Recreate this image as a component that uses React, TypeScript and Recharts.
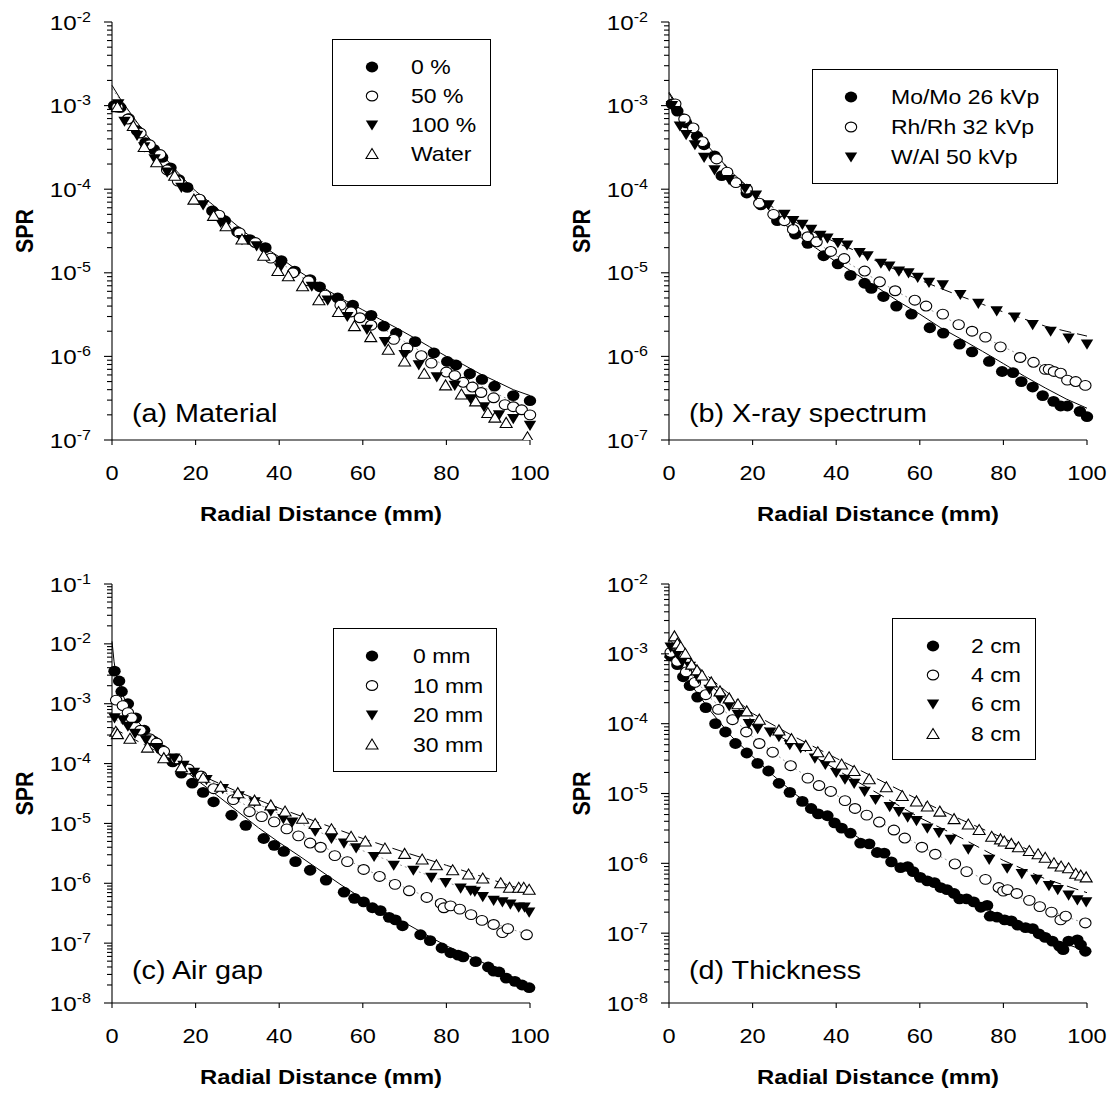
import React from 'react';
import { ComposedChart, Scatter, Line, XAxis, YAxis, Legend, Label, Customized } from 'recharts';

const FONT = '"Liberation Sans", Arial, sans-serif';
const SX = 1.15; // the source figure is a little wider than tall

type Pt = [number, number];

// ---------- (a) Material ----------
const matPct0: Pt[] = [[0.5,1.0e-3],[2,9.5e-4],[4,7.0e-4],[6,5.0e-4],[8,3.6e-4],[10,3.0e-4],[12,2.4e-4],[14,1.8e-4],[16,1.3e-4],[18,1.05e-4],[21,7.5e-5],[24,5.5e-5],[27,4.2e-5],[30,3.1e-5],[33,2.5e-5],[36.7,2.0e-5],[40.5,1.4e-5],[43.7,1.05e-5],[47.4,8.3e-6],[49.7,6.8e-6],[54,5.0e-6],[57.6,4.1e-6],[62,3.1e-6],[65,2.3e-6],[68,1.9e-6],[72.5,1.5e-6],[77,1.1e-6],[80.2,8.7e-7],[82.3,7.9e-7],[85.6,6.2e-7],[88.5,5.3e-7],[91.5,4.4e-7],[96,3.4e-7],[100,2.95e-7]];
const matPct50: Pt[] = [[1.3,9.6e-4],[3.8,6.9e-4],[6.8,4.7e-4],[9,3.4e-4],[11.5,2.6e-4],[13.2,1.7e-4],[15.8,1.25e-4],[20.9,7.6e-5],[25.6,4.9e-5],[30.5,3.0e-5],[34.3,2.3e-5],[38,1.5e-5],[43.3,1.0e-5],[47,8.0e-6],[51,5.4e-6],[54.7,4.1e-6],[57.2,3.4e-6],[59.3,2.9e-6],[62,2.36e-6],[67.4,1.6e-6],[70.6,1.26e-6],[74,1.02e-6],[76.4,8.3e-7],[80,6.5e-7],[82,5.9e-7],[84,4.9e-7],[86.2,4.3e-7],[88.3,3.7e-7],[91.3,3.2e-7],[94,2.65e-7],[96,2.5e-7],[98,2.3e-7],[100,2.0e-7]];
const matPct100: Pt[] = [[1.5,1.05e-3],[3,6.5e-4],[6,4.4e-4],[7.7,3.2e-4],[10.2,2.3e-4],[13.2,1.6e-4],[16.6,1.05e-4],[21.8,6.5e-5],[26,4.0e-5],[31.1,2.5e-5],[34.6,2.1e-5],[40.2,1.15e-5],[47.8,6.9e-6],[51.6,4.7e-6],[56.3,3.0e-6],[61,2.1e-6],[65.3,1.5e-6],[70,1.05e-6],[73.4,7.9e-7],[77.7,5.7e-7],[82,4.5e-7],[85.8,3.1e-7],[89,2.5e-7],[92.6,2.0e-7],[96,1.8e-7],[100,1.5e-7]];
const matWater: Pt[] = [[1.3,9.6e-4],[5.1,5.7e-4],[7.7,3.2e-4],[10.7,2.1e-4],[15,1.45e-4],[19.6,7.5e-5],[24.3,4.8e-5],[27.3,3.6e-5],[31.1,2.5e-5],[36.3,1.6e-5],[39.7,1.05e-5],[42.2,9.1e-6],[45.6,6.9e-6],[49.5,4.7e-6],[54.2,3.4e-6],[58,2.3e-6],[61.9,1.7e-6],[66.1,1.2e-6],[70,8.7e-7],[74.7,6.2e-7],[79.8,4.5e-7],[83.6,3.5e-7],[87,2.9e-7],[89.9,2.1e-7],[91.6,1.85e-7],[94.3,1.6e-7],[99.4,1.08e-7]];
const matSim0: Pt[] = [[0,1.75e-3],[2,1.2e-3],[5,7.4e-4],[8,4.6e-4],[10,3.5e-4],[12,2.6e-4],[15,1.75e-4],[18,1.2e-4],[20,9.5e-5],[24,6.6e-5],[28,4.4e-5],[32,3.0e-5],[36,2.1e-5],[40,1.55e-5],[44,1.1e-5],[48,8.2e-6],[52,6.0e-6],[56,4.6e-6],[60,3.6e-6],[64,2.8e-6],[68,2.2e-6],[72,1.7e-6],[76,1.3e-6],[80,1.0e-6],[84,8.0e-7],[88,6.2e-7],[92,5.0e-7],[96,4.0e-7],[100,3.4e-7]];
const matSim50: Pt[] = [[0,1.6e-3],[10,3.2e-4],[20,8.8e-5],[30,3.2e-5],[40,1.35e-5],[50,6.2e-6],[60,3.0e-6],[70,1.5e-6],[80,7.5e-7],[90,4.0e-7],[100,2.3e-7]];

// ---------- (b) X-ray spectrum ----------
const specMo: Pt[] = [[0.7,1.05e-3],[2,8.6e-4],[4.1,6.2e-4],[6.7,4.3e-4],[8.4,3.4e-4],[10.9,2.5e-4],[12.6,1.45e-4],[18.6,9.0e-5],[22,6.5e-5],[25.9,4.2e-5],[30.2,2.9e-5],[33.2,2.25e-5],[37,1.6e-5],[40.4,1.28e-5],[43.4,9.3e-6],[46.8,7.5e-6],[48.4,6.5e-6],[51.3,5.2e-6],[54.4,4.0e-6],[58,3.2e-6],[62.4,2.2e-6],[65.6,1.9e-6],[69.5,1.4e-6],[72.5,1.13e-6],[76.6,8.7e-7],[79.7,6.6e-7],[82.3,6.4e-7],[84.3,5.0e-7],[87,4.3e-7],[89.4,3.4e-7],[92,2.9e-7],[93.7,2.55e-7],[95.3,2.55e-7],[98.3,2.2e-7],[100,1.9e-7]];
const specRh: Pt[] = [[1.5,1.05e-3],[3.7,6.9e-4],[5.8,5.4e-4],[8,3.7e-4],[11.4,2.3e-4],[13.9,1.6e-4],[16,1.2e-4],[18.6,1.0e-4],[21.6,6.8e-5],[25,5.0e-5],[27.6,4.2e-5],[29.7,3.3e-5],[33.2,2.7e-5],[35.3,2.35e-5],[38.7,1.8e-5],[41.9,1.48e-5],[46.8,1.05e-5],[50.4,7.8e-6],[54.1,6.1e-6],[58.8,4.7e-6],[61.5,4.0e-6],[65.5,3.2e-6],[69.3,2.4e-6],[72.5,2.0e-6],[75.7,1.7e-6],[79.3,1.3e-6],[84,9.7e-7],[87.2,8.5e-7],[90,7.0e-7],[90.9,7.0e-7],[92.1,6.6e-7],[93.7,6.3e-7],[95.3,5.2e-7],[97.3,5.0e-7],[99.6,4.5e-7]];
const specW: Pt[] = [[0.7,1.0e-3],[1.5,8.7e-4],[2.6,5.7e-4],[4.1,4.5e-4],[6.2,3.4e-4],[8.4,2.4e-4],[10.9,1.7e-4],[14.4,1.3e-4],[18.2,1.02e-4],[20.8,8.5e-5],[23.8,6.5e-5],[27.6,5.0e-5],[29.7,4.2e-5],[31.9,3.8e-5],[34,3.3e-5],[36.2,2.8e-5],[37.9,2.6e-5],[40.4,2.3e-5],[42.6,2.15e-5],[45.6,1.75e-5],[47.5,1.6e-5],[50.7,1.3e-5],[52.7,1.2e-5],[55,1.05e-5],[57.3,1.0e-5],[59.5,8.8e-6],[62.2,7.7e-6],[65.5,7.2e-6],[69.7,5.5e-6],[74,4.3e-6],[78.4,3.5e-6],[82.7,2.95e-6],[87,2.4e-6],[91.3,2.0e-6],[95.6,1.65e-6],[100,1.4e-6]];
const specSimMo: Pt[] = [[0,1.45e-3],[5,6.0e-4],[10,3.0e-4],[15,1.6e-4],[20,9.0e-5],[25,5.0e-5],[30,3.0e-5],[35,2.0e-5],[40,1.35e-5],[45,9.5e-6],[50,6.6e-6],[55,4.5e-6],[60,3.2e-6],[65,2.2e-6],[70,1.6e-6],[75,1.15e-6],[80,8.2e-7],[85,5.8e-7],[90,4.2e-7],[95,3.1e-7],[100,2.4e-7]];
const specSimRh: Pt[] = [[0,1.4e-3],[10,3.0e-4],[20,9.0e-5],[30,3.5e-5],[40,1.6e-5],[50,8.0e-6],[60,4.2e-6],[70,2.3e-6],[80,1.3e-6],[90,7.5e-7],[100,4.5e-7]];
const specSimW: Pt[] = [[0,1.4e-3],[5,5.5e-4],[10,2.8e-4],[15,1.6e-4],[20,9.5e-5],[25,6.0e-5],[30,4.1e-5],[35,3.0e-5],[40,2.3e-5],[45,1.8e-5],[50,1.35e-5],[55,1.05e-5],[60,8.2e-6],[65,6.5e-6],[70,5.2e-6],[75,4.2e-6],[80,3.4e-6],[85,2.8e-6],[90,2.3e-6],[95,2.0e-6],[100,1.75e-6]];

// ---------- (c) Air gap ----------
const gap0: Pt[] = [[0.6,3.5e-3],[1.7,2.4e-3],[2.3,1.6e-3],[3.8,1.0e-3],[5.7,5.8e-4],[7.7,3.6e-4],[9.8,2.4e-4],[11.9,1.7e-4],[14.5,1.07e-4],[16.6,6.9e-5],[19.2,4.7e-5],[21.8,3.3e-5],[24.3,2.3e-5],[28.6,1.37e-5],[32,9.3e-6],[36.3,5.6e-6],[38.8,4.3e-6],[41.1,3.4e-6],[43.9,2.3e-6],[47.4,1.65e-6],[51.2,1.13e-6],[55.5,7.1e-7],[58,5.6e-7],[60.2,4.9e-7],[62.3,3.9e-7],[64.2,3.5e-7],[66.3,2.7e-7],[67.8,2.45e-7],[69.5,1.95e-7],[73.8,1.38e-7],[76.1,1.1e-7],[78.9,8.3e-8],[81,6.9e-8],[82.8,6.3e-8],[84,5.9e-8],[87,4.9e-8],[90,4.0e-8],[91.3,3.4e-8],[92.6,3.3e-8],[94.3,2.6e-8],[96.4,2.3e-8],[98.1,2.0e-8],[99.8,1.8e-8]];
const gap10: Pt[] = [[1,1.15e-3],[2.6,9.3e-4],[3.8,7.1e-4],[4.7,5.8e-4],[6.8,3.6e-4],[9,2.6e-4],[10.7,2.2e-4],[12.4,1.6e-4],[15.4,1.2e-4],[18.3,8.1e-5],[21.3,6.2e-5],[24.3,3.8e-5],[29,2.5e-5],[32.9,1.57e-5],[35.8,1.3e-5],[38.8,1.06e-5],[41.8,8.1e-6],[44.6,6.2e-6],[47.4,4.7e-6],[49.9,4.0e-6],[53.3,2.9e-6],[56.3,2.3e-6],[60.2,1.7e-6],[64,1.3e-6],[67.7,9.6e-7],[71.1,7.5e-7],[75.3,5.8e-7],[78.7,4.6e-7],[79.4,3.9e-7],[81,4.2e-7],[83.2,3.7e-7],[85.9,3.0e-7],[88.5,2.4e-7],[91.3,2.05e-7],[93.4,1.5e-7],[94.7,1.75e-7],[99.2,1.38e-7]];
const gap20: Pt[] = [[0.6,5.8e-4],[2.6,5.4e-4],[3.8,4.2e-4],[5.5,3.2e-4],[8.1,2.5e-4],[10.7,1.85e-4],[14.9,1.23e-4],[17.1,9.3e-5],[19.6,7.1e-5],[22.6,5.4e-5],[26.5,3.8e-5],[30.3,2.9e-5],[34.1,2.3e-5],[38,1.6e-5],[41,1.2e-5],[43.1,1.05e-5],[48.6,7.4e-6],[52.5,5.6e-6],[55.5,4.7e-6],[58.4,3.9e-6],[62.7,2.8e-6],[67.4,2.0e-6],[72.1,1.65e-6],[76.4,1.26e-6],[79.8,1.03e-6],[83.4,8.3e-7],[85.8,7.6e-7],[86.8,7.3e-7],[88.7,6.0e-7],[91.3,5.2e-7],[93.4,4.9e-7],[95.3,4.5e-7],[97.3,4.0e-7],[98.7,4.0e-7],[99.8,3.3e-7]];
const gap30: Pt[] = [[0.9,3.4e-4],[1.3,3.1e-4],[4.3,2.6e-4],[8.5,1.85e-4],[12.4,1.23e-4],[16.6,8.7e-5],[21.8,5.8e-5],[26,4.1e-5],[30.1,3.2e-5],[34.1,2.4e-5],[38,2.0e-5],[41.4,1.58e-5],[45.6,1.2e-5],[48.6,9.8e-6],[52.5,8.0e-6],[57.2,6.0e-6],[60.6,5.0e-6],[65.3,3.8e-6],[70,3.1e-6],[74.2,2.5e-6],[77.6,2.0e-6],[81.5,1.65e-6],[85.3,1.4e-6],[88.7,1.2e-6],[93,1.0e-6],[95.1,8.4e-7],[97.3,8.4e-7],[98.5,8.4e-7],[99.8,7.8e-7]];
const gapSim0: Pt[] = [[0,1.1e-2],[0.5,5.0e-3],[1,3.0e-3],[2,1.8e-3],[3,1.2e-3],[5,6.5e-4],[8,3.5e-4],[10,2.4e-4],[15,1.1e-4],[20,5.5e-5],[25,3.0e-5],[30,1.6e-5],[35,8.5e-6],[40,4.8e-6],[45,2.8e-6],[50,1.6e-6],[55,9.2e-7],[60,5.5e-7],[65,3.4e-7],[70,2.2e-7],[75,1.4e-7],[80,9.0e-8],[85,6.3e-8],[90,4.3e-8],[95,2.9e-8],[100,2.0e-8]];
const gapSim10: Pt[] = [[0,1.3e-3],[5,5.5e-4],[10,2.4e-4],[20,7.0e-5],[30,2.4e-5],[40,1.0e-5],[50,4.3e-6],[60,1.8e-6],[70,8.5e-7],[80,4.3e-7],[90,2.3e-7],[100,1.35e-7]];
const gapSim20: Pt[] = [[0,6.0e-4],[10,2.0e-4],[20,7.0e-5],[30,3.0e-5],[40,1.45e-5],[50,7.0e-6],[60,3.5e-6],[70,1.9e-6],[80,1.05e-6],[90,5.8e-7],[100,3.5e-7]];
const gapSim30: Pt[] = [[0,4.0e-4],[10,1.7e-4],[20,7.0e-5],[30,3.4e-5],[40,1.8e-5],[50,1.0e-5],[60,5.6e-6],[70,3.3e-6],[80,2.0e-6],[90,1.2e-6],[100,7.2e-7]];

// ---------- (d) Thickness ----------
const thick2: Pt[] = [[0.4,9.3e-4],[2,7.0e-4],[3.4,4.7e-4],[5,3.5e-4],[6.8,2.4e-4],[8.8,1.7e-4],[11.1,1.0e-4],[13.5,7.6e-5],[15.9,5.2e-5],[18.6,3.8e-5],[21.2,2.7e-5],[23.8,2.1e-5],[26.3,1.4e-5],[28.9,1.04e-5],[31.9,7.7e-6],[34,6.1e-6],[35.7,5.1e-6],[37.9,4.8e-6],[39.6,3.8e-6],[41.3,3.2e-6],[43.4,2.7e-6],[45.8,1.95e-6],[47.9,1.9e-6],[49.8,1.43e-6],[51.5,1.4e-6],[53.2,1.05e-6],[55.4,8.7e-7],[57.1,9.0e-7],[58.4,7.6e-7],[60.1,6.3e-7],[61.8,5.6e-7],[63.5,5.3e-7],[65,4.5e-7],[66.5,4.2e-7],[68.2,3.7e-7],[69.5,3.1e-7],[71.2,3.1e-7],[72.9,2.8e-7],[74.6,2.35e-7],[76.1,2.5e-7],[76.8,1.75e-7],[78.5,1.7e-7],[80.3,1.55e-7],[81.9,1.5e-7],[83.4,1.3e-7],[85.3,1.2e-7],[87,1.16e-7],[88.5,9.8e-8],[90,8.7e-8],[91.7,7.7e-8],[93.4,6.5e-8],[94.3,5.8e-8],[95.6,7.7e-8],[97.7,8.0e-8],[98.5,6.8e-8],[99.6,5.5e-8]];
const thick4: Pt[] = [[0.4,1.05e-3],[2,7.8e-4],[4.1,5.5e-4],[6.2,3.9e-4],[8.8,2.6e-4],[11.8,1.6e-4],[15.2,1.14e-4],[18.5,7.6e-5],[21.6,5.2e-5],[24.8,3.9e-5],[29.1,2.5e-5],[33.2,1.66e-5],[35.9,1.3e-5],[38.7,1.07e-5],[42.1,7.9e-6],[44.5,6.1e-6],[47.3,4.9e-6],[50.3,3.9e-6],[53.8,3.0e-6],[56.4,2.3e-6],[60.5,1.7e-6],[63.7,1.35e-6],[68.4,9.8e-7],[71.2,7.6e-7],[75.7,5.9e-7],[78.9,4.5e-7],[80,4.0e-7],[81,4.2e-7],[83.2,3.7e-7],[86.2,2.95e-7],[88.7,2.4e-7],[91.5,2.0e-7],[93.7,1.55e-7],[94.9,1.75e-7],[99.6,1.4e-7]];
const thick6: Pt[] = [[0.4,1.25e-3],[2,1.0e-3],[3.2,7.8e-4],[5,6.6e-4],[7.1,4.4e-4],[9.7,3.1e-4],[12.2,2.3e-4],[14.4,1.8e-4],[16.5,1.35e-4],[19.1,1.0e-4],[21.2,8.5e-5],[24.2,7.6e-5],[26.3,6.5e-5],[28.9,5.0e-5],[31.5,4.5e-5],[34.9,3.2e-5],[37.4,2.6e-5],[40,2.0e-5],[42.1,1.6e-5],[44.3,1.4e-5],[46.8,1.07e-5],[49.4,8.2e-6],[52.8,6.5e-6],[55,5.5e-6],[57.1,4.6e-6],[59.2,4.1e-6],[61.8,3.2e-6],[64.6,2.75e-6],[67.4,2.2e-6],[71.6,1.6e-6],[76.6,1.14e-6],[80.9,8.5e-7],[84.4,7.1e-7],[87.9,5.9e-7],[90.9,4.8e-7],[93,4.2e-7],[95.6,3.5e-7],[97.7,3.0e-7],[99.8,2.8e-7]];
const thick8: Pt[] = [[1.3,1.78e-3],[2,1.4e-3],[2.8,1.25e-3],[3.9,1.0e-3],[5.4,7.0e-4],[6.7,5.8e-4],[7.9,4.9e-4],[10.1,3.9e-4],[12.2,2.9e-4],[14.4,2.3e-4],[16.5,1.9e-4],[18.6,1.5e-4],[21.6,1.14e-4],[26.3,8.0e-5],[29.3,6.0e-5],[32.7,4.8e-5],[35.6,3.9e-5],[38.3,3.3e-5],[41.3,2.6e-5],[44.3,2.1e-5],[47.9,1.6e-5],[52,1.23e-5],[55.8,9.2e-6],[59.2,7.7e-6],[61.8,6.5e-6],[64.8,5.5e-6],[68.2,4.3e-6],[71.6,3.6e-6],[74.2,3.0e-6],[77.2,2.4e-6],[79.3,2.2e-6],[80.2,2.05e-6],[81.9,1.9e-6],[83.6,1.7e-6],[86.2,1.5e-6],[88.3,1.35e-6],[90,1.2e-6],[92.1,1.0e-6],[93.8,9.0e-7],[95.6,8.5e-7],[97.3,7.1e-7],[98.5,6.7e-7],[99.8,6.3e-7]];
const thickSim2: Pt[] = [[0,1.1e-3],[5,3.8e-4],[10,1.5e-4],[15,6.5e-5],[20,3.4e-5],[25,1.8e-5],[30,1.0e-5],[35,6.0e-6],[40,3.8e-6],[45,2.4e-6],[50,1.5e-6],[55,9.8e-7],[60,6.5e-7],[65,4.6e-7],[70,3.3e-7],[75,2.4e-7],[80,1.7e-7],[85,1.25e-7],[90,9.0e-8],[95,7.0e-8],[100,5.5e-8]];
const thickSim4: Pt[] = [[0,1.2e-3],[10,2.3e-4],[20,6.5e-5],[30,2.3e-5],[40,9.5e-6],[50,4.1e-6],[60,1.8e-6],[70,8.6e-7],[80,4.2e-7],[90,2.2e-7],[100,1.35e-7]];
const thickSim6: Pt[] = [[0,1.3e-3],[10,3.5e-4],[20,1.1e-4],[30,5.0e-5],[40,2.2e-5],[50,1.0e-5],[60,4.5e-6],[70,2.3e-6],[80,1.1e-6],[90,6.0e-7],[100,3.8e-7]];
const thickSim8: Pt[] = [[0,1.6e-3],[10,4.4e-4],[20,1.4e-4],[30,6.5e-5],[40,3.2e-5],[50,1.6e-5],[60,8.0e-6],[70,4.2e-6],[80,2.3e-6],[90,1.2e-6],[100,6.5e-7]];

const xTicks = [0, 20, 40, 60, 80, 100];

type Kind = 'dot' | 'ring' | 'down' | 'up';
const toPts = (a: Pt[]) => a.map(([x, y]) => ({ x, y }));

const logTicks = (lo: number, hi: number) => {
  const out: number[] = [];
  for (let e = lo; e < hi; e++) for (let k = 1; k <= 9; k++) out.push(Number((k * Math.pow(10, e)).toPrecision(6)));
  out.push(Math.pow(10, hi));
  return out;
};

const Marker = ({ kind, cx, cy }: { kind: Kind; cx: number; cy: number }) => {
  if (kind === 'dot') return <ellipse cx={cx} cy={cy} rx={6.2} ry={5.4} fill="#000" />;
  if (kind === 'ring') return <ellipse cx={cx} cy={cy} rx={5.7} ry={4.9} fill="#fff" stroke="#000" strokeWidth={1.1} />;
  if (kind === 'down') return <polygon points={`${cx - 6.2},${cy - 4.6} ${cx + 6.2},${cy - 4.6} ${cx},${cy + 5.6}`} fill="#000" />;
  return <polygon points={`${cx - 6},${cy + 4.5} ${cx + 6},${cy + 4.5} ${cx},${cy - 5.5}`} fill="#fff" stroke="#000" strokeWidth={1.1} />;
};

const SText = ({ x, y, size, bold, anchor = 'start', rotate, children }: any) => (
  <g transform={`translate(${x},${y}) scale(${SX},1)${rotate ? ` rotate(${rotate})` : ''}`}>
    <text x={0} y={0} textAnchor={anchor} fontFamily={FONT} fontSize={size} fontWeight={bold ? 'bold' : 'normal'} fill="#000">
      {children}
    </text>
  </g>
);

const YTick = (props: any) => {
  const { x, y, payload } = props;
  const lg = Math.log10(payload.value);
  const e = Math.round(lg);
  const major = Math.abs(lg - e) < 1e-6;
  return (
    <g>
      <line x1={x - (major ? 8 : 5)} x2={x} y1={y} y2={y} stroke="#000" strokeWidth={1.1} />
      {major && (
        <g transform={`translate(${x - 21},${y}) scale(${SX},1)`}>
          <text x={0} y={0} textAnchor="end" fontFamily={FONT} fill="#000">
            <tspan fontSize={21} dy={7.6}>10</tspan>
            <tspan fontSize={14} dy={-8}>{e}</tspan>
          </text>
        </g>
      )}
    </g>
  );
};

const XTick = (props: any) => {
  const { x, y, payload } = props;
  return (
    <g>
      <line x1={x} x2={x} y1={y} y2={y + 5} stroke="#000" strokeWidth={1.1} />
      <SText x={x} y={y + 40} size={20.5} anchor="middle">{payload.value}</SText>
    </g>
  );
};

interface SeriesSpec { name: string; kind: Kind; data: Pt[] }
interface LineSpec { data: Pt[]; dash?: string; color?: string }
interface PanelSpec {
  title: string;
  yLo: number;
  yHi: number;
  series: SeriesSpec[];
  lines: LineSpec[];
  box: { x: number; y: number; w: number; h: number; mx: number; tx: number; rows: number[] };
}

const W = 557;
const H = 547;

const LegendBox = ({ spec }: { spec: PanelSpec }) => {
  const b = spec.box;
  return (
    <svg width={b.w + 2} height={b.h + 2} style={{ display: 'block' }}>
      <rect x={0.5} y={0.5} width={b.w} height={b.h} fill="#fff" stroke="#000" strokeWidth={1} />
      {spec.series.map((s, i) => (
        <g key={s.name}>
          <Marker kind={s.kind} cx={b.mx} cy={b.rows[i]} />
          <SText x={b.tx} y={b.rows[i] + 7.3} size={20}>{s.name}</SText>
        </g>
      ))}
    </svg>
  );
};

const Panel = ({ spec, top }: { spec: PanelSpec; top: number }) => {
  const ticks = logTicks(spec.yLo, spec.yHi);
  return (
    <ComposedChart width={W} height={H} margin={{ top, right: 27, left: 12, bottom: H - top - (top === 22 ? 418 : 419) - 85 }}>
      <XAxis
        dataKey="x"
        type="number"
        domain={[0, 100]}
        ticks={xTicks}
        interval={0}
        height={85}
        tickSize={0}
        tickMargin={0}
        tick={<XTick />}
        tickLine={false}
        axisLine={{ stroke: '#000', strokeWidth: 1.1 }}
      >
        <Label
          content={(p: any) => {
            const vb = p.viewBox;
            return <SText x={vb.x + vb.width / 2} y={vb.y + 81} size={20.7} bold anchor="middle">Radial Distance (mm)</SText>;
          }}
        />
      </XAxis>
      <YAxis
        dataKey="y"
        type="number"
        scale="log"
        domain={[Math.pow(10, spec.yLo), Math.pow(10, spec.yHi)]}
        allowDataOverflow
        ticks={ticks}
        interval={0}
        width={100}
        tickSize={0}
        tickMargin={0}
        tick={<YTick />}
        tickLine={false}
        axisLine={{ stroke: '#000', strokeWidth: 1.1 }}
      >
        <Label
          content={(p: any) => {
            const vb = p.viewBox;
            return <SText x={33} y={vb.y + vb.height / 2} size={21.5} bold anchor="middle" rotate={-90}>SPR</SText>;
          }}
        />
      </YAxis>
      {spec.lines.map((l, i) => (
        <Line
          key={'l' + i}
          data={toPts(l.data)}
          dataKey="y"
          type="linear"
          stroke={l.color || '#000'}
          strokeWidth={1}
          strokeDasharray={l.dash}
          dot={false}
          activeDot={false}
          isAnimationActive={false}
        />
      ))}
      {spec.series.map((s) => (
        <Scatter
          key={s.name}
          name={s.name}
          data={toPts(s.data)}
          isAnimationActive={false}
          shape={(p: any) => <Marker kind={s.kind} cx={p.cx} cy={p.cy} />}
        />
      ))}
      <Legend
        layout="horizontal"
        verticalAlign="middle"
        align="center"
        wrapperStyle={{ position: 'absolute', left: spec.box.x, top: spec.box.y, width: spec.box.w + 2, height: spec.box.h + 2 }}
        content={() => <LegendBox spec={spec} />}
      />
      <Customized component={<SText x={132} y={top === 22 ? 422 : 432} size={25}>{spec.title}</SText>} />
    </ComposedChart>
  );
};

const panelA: PanelSpec = {
  title: '(a) Material',
  yLo: -7,
  yHi: -2,
  series: [
    { name: '0 %', kind: 'dot', data: matPct0 },
    { name: '50 %', kind: 'ring', data: matPct50 },
    { name: '100 %', kind: 'down', data: matPct100 },
    { name: 'Water', kind: 'up', data: matWater },
  ],
  lines: [{ data: matSim50, dash: '2 3', color: '#999' }, { data: matSim0 }],
  box: { x: 332, y: 39, w: 158, h: 146, mx: 40, tx: 79, rows: [28, 57, 86, 115] },
};

const panelB: PanelSpec = {
  title: '(b) X-ray spectrum',
  yLo: -7,
  yHi: -2,
  series: [
    { name: 'Mo/Mo 26 kVp', kind: 'dot', data: specMo },
    { name: 'Rh/Rh 32 kVp', kind: 'ring', data: specRh },
    { name: 'W/Al 50 kVp', kind: 'down', data: specW },
  ],
  lines: [{ data: specSimRh, dash: '2 3', color: '#999' }, { data: specSimMo }, { data: specSimW, dash: '12 6' }],
  box: { x: 255, y: 69, w: 245, h: 114, mx: 39, tx: 79, rows: [28, 58, 88] },
};

const panelC: PanelSpec = {
  title: '(c) Air gap',
  yLo: -8,
  yHi: -1,
  series: [
    { name: '0 mm', kind: 'dot', data: gap0 },
    { name: '10 mm', kind: 'ring', data: gap10 },
    { name: '20 mm', kind: 'down', data: gap20 },
    { name: '30 mm', kind: 'up', data: gap30 },
  ],
  lines: [
    { data: gapSim10, dash: '2 3', color: '#999' },
    { data: gapSim20, dash: '2 3', color: '#999' },
    { data: gapSim0 },
    { data: gapSim30, dash: '12 6' },
  ],
  box: { x: 333, y: 81, w: 163, h: 143, mx: 39, tx: 80, rows: [28, 57.5, 87, 116.5] },
};

const panelD: PanelSpec = {
  title: '(d) Thickness',
  yLo: -8,
  yHi: -2,
  series: [
    { name: '2 cm', kind: 'dot', data: thick2 },
    { name: '4 cm', kind: 'ring', data: thick4 },
    { name: '6 cm', kind: 'down', data: thick6 },
    { name: '8 cm', kind: 'up', data: thick8 },
  ],
  lines: [
    { data: thickSim4, dash: '2 3', color: '#999' },
    { data: thickSim2 },
    { data: thickSim6, dash: '12 6' },
    { data: thickSim8, dash: '12 6' },
  ],
  box: { x: 335, y: 71, w: 143, h: 141, mx: 41, tx: 79, rows: [28, 57, 86, 116] },
};

export default function App() {
  return (
    <div style={{ position: 'absolute', left: 0, top: 0, width: 1115, height: 1094, background: '#fff' }}>
      <div style={{ position: 'absolute', left: 0, top: 0 }}><Panel spec={panelA} top={22} /></div>
      <div style={{ position: 'absolute', left: 557, top: 0 }}><Panel spec={panelB} top={22} /></div>
      <div style={{ position: 'absolute', left: 0, top: 547 }}><Panel spec={panelC} top={37} /></div>
      <div style={{ position: 'absolute', left: 557, top: 547 }}><Panel spec={panelD} top={37} /></div>
    </div>
  );
}
